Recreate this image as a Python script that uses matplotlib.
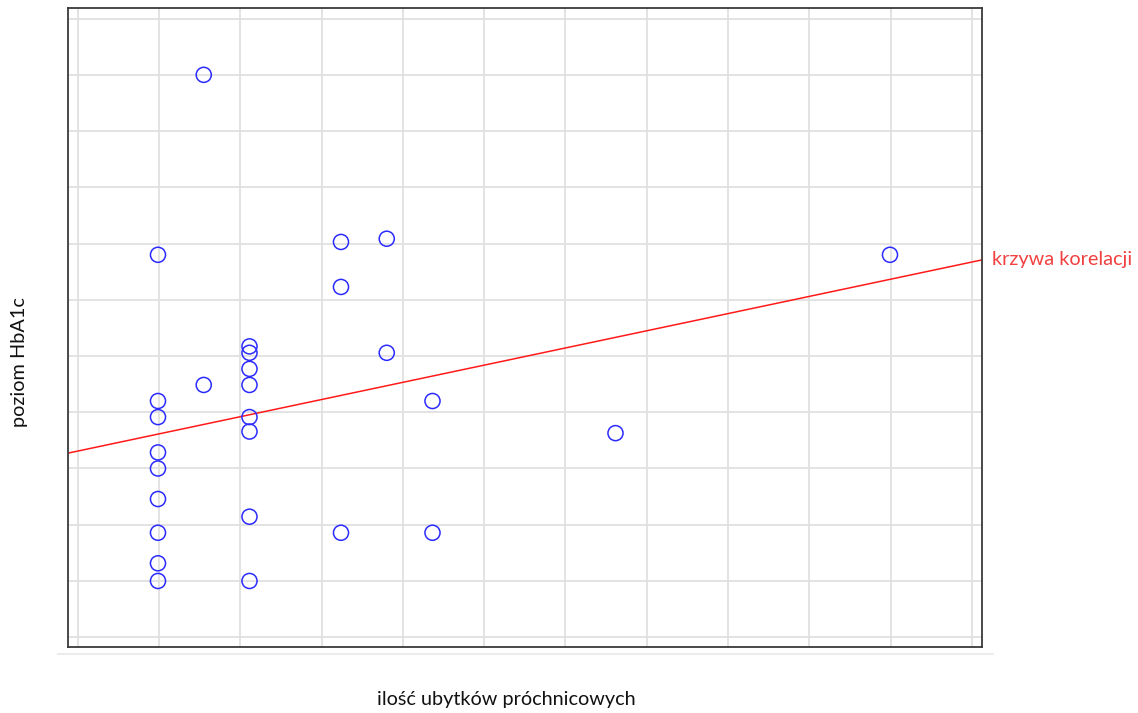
import numpy as np
import matplotlib
matplotlib.use("Agg")
import matplotlib.pyplot as plt
from matplotlib.lines import Line2D

# number of carious cavities per patient
caries = [0, 0, 0, 0, 0, 0, 0, 0, 0,
          1, 1,
          2, 2, 2, 2, 2, 2, 2, 2,
          4, 4, 4,
          5, 5,
          6, 6,
          10,
          16]

# HbA1c level per patient
hba1c = [7.03, 6.12, 6.02, 5.80, 5.70, 5.51, 5.30, 5.11, 5.00,
         8.15, 6.22,
         6.46, 6.42, 6.32, 6.22, 6.02, 5.93, 5.40, 5.00,
         7.11, 6.83, 5.30,
         7.13, 6.42,
         6.12, 5.30,
         5.92,
         7.03]

# correlation line: intercept and slope
trend_intercept = 5.914
trend_slope = 0.0602
trend_label = "krzywa korelacji"

x_label = "ilość ubytków próchnicowych"
y_label = "poziom HbA1c"

plt.rcParams["font.family"] = ["Lato", "DejaVu Sans"]

fig = plt.figure(figsize=(11.38, 7.13), dpi=100)
ax = fig.add_axes([68 / 1138, 66 / 713, 914 / 1138, 639 / 713])

xlim = (-1.967, 18.011)
ylim = (4.589, 8.566)
ax.set_xlim(*xlim)
ax.set_ylim(*ylim)

# grid
ax.set_xticks(np.linspace(-1.755, 17.79, 12))
ax.set_yticks(np.linspace(4.65, 8.50, 12))
ax.grid(True, color="#e0e0e0", linewidth=1.3)
ax.set_axisbelow(True)
ax.tick_params(length=0, labelbottom=False, labelleft=False)
for sp in ax.spines.values():
    sp.set_color("#3a3a3a")
    sp.set_linewidth(1.3)

# scatter points
ax.scatter(caries, hba1c, s=118, facecolors="none", edgecolors="#2b2bff",
           linewidths=1.1, zorder=3)

# correlation line across the whole plotting area
xs = np.array(xlim)
ax.plot(xs, trend_intercept + trend_slope * xs, color="#ff1a1a",
        linewidth=1.1, zorder=2, solid_capstyle="butt")

ax.annotate(trend_label, xy=(xlim[1], trend_intercept + trend_slope * xlim[1]),
            xytext=(7.5, 0), textcoords="offset points", va="center",
            ha="left", color="#f04040", fontsize=14.3, annotation_clip=False)

fig.text(506 / 1138, 1 - 700 / 713, x_label, ha="center", va="center",
         fontsize=14.3, color="#111111")
fig.text(20 / 1138, 1 - 362 / 713, y_label, ha="center", va="center",
         rotation=90, fontsize=14.3, color="#111111")

# faint rule under the plot frame
fig.add_artist(Line2D([58 / 1138, 993 / 1138], [1 - 654 / 713] * 2,
                      color="#ececec", linewidth=1.5))

fig.savefig("out.png", dpi=100)
